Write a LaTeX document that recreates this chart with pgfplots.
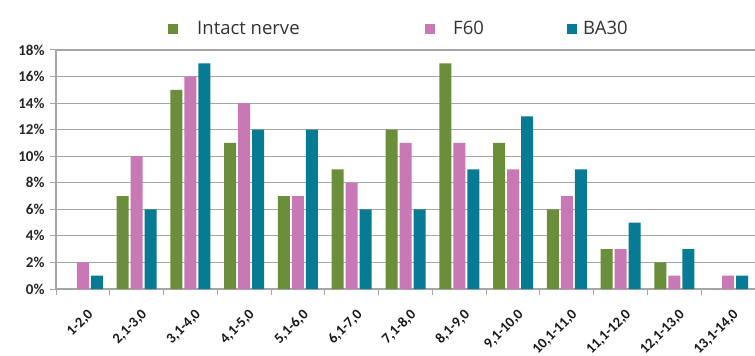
\documentclass[border=0pt]{standalone}
\usepackage{fontspec}
\setmainfont{Carlito}
\newfontfamily\legfont{Open Sans}
\usepackage{pgfplots}
\pgfplotsset{compat=1.18}
\definecolor{cgreen}{HTML}{6A8E3A}
\definecolor{cpink}{HTML}{C878B4}
\definecolor{cteal}{HTML}{077A94}
\definecolor{cgrid}{HTML}{A6A6A6}
\begin{document}
\begin{tikzpicture}[x=1pt,y=1pt]
\path[use as bounding box] (0,0) rectangle (755,356);
\begin{axis}[
  scale only axis, width=699pt, height=239pt,
  at={(56pt,67pt)}, anchor=south west,
  ybar, bar width=12pt,
  xmin=-0.5, xmax=12.5, ymin=0, ymax=18,
  xtick={0,...,12},
  xticklabels={{1-2,0},{2,1-3,0},{3,1-4,0},{4,1-5,0},{5,1-6,0},{6,1-7,0},{7,1-8,0},{8,1-9,0},{9,1-10,0},{10,1-11,0},{11,1-12,0},{12,1-13,0},{13,1-14,0}},
  major x tick style={draw=none},
  minor xtick={-0.5,0.5,...,12.5},
  minor x tick style={cgrid, line width=1pt},
  minor tick length=6pt,
  xticklabel style={inner sep=0pt, xshift=4pt, yshift=-13pt, rotate=45, anchor=north east, font=\bfseries\fontsize{14.5}{14.5}\selectfont, text=black!90},
  ytick={0,2,...,18},
  yticklabel={\pgfmathprintnumber{\tick}\%},
  /pgf/number format/assume math mode=true,
  y tick label style={font=\bfseries\fontsize{15}{15}\selectfont, text=black!85, xshift=-2pt},
  ymajorgrids, grid style={cgrid, line width=1.2pt},
  major y tick style={cgrid, line width=1pt},
  major tick length=6pt,
  tick align=outside,
  axis x line*=bottom, axis y line*=left,
  axis line style={cgrid, line width=1.2pt},
  tick pos=left,
  legend columns=3,
  legend style={at={(0.156,1.088)}, anchor=west, draw=none, fill=none,
    nodes={inner sep=0pt}, column sep=0pt,
    font=\legfont\fontsize{18.5}{18.5}\selectfont, text=black!80},
  legend image code/.code={\fill[#1] (0pt,-5pt) rectangle (10pt,5pt);},
]
\addplot[fill=cgreen, draw=none] coordinates {(0,0) (1,7) (2,15) (3,11) (4,7) (5,9) (6,12) (7,17) (8,11) (9,6) (10,3) (11,2) (12,0)};
\addlegendentry{\makebox[247pt][l]{\hspace{19pt}Intact nerve}}
\addplot[fill=cpink, draw=none] coordinates {(0,2) (1,10) (2,16) (3,14) (4,7) (5,8) (6,11) (7,11) (8,9) (9,7) (10,3) (11,1) (12,1)};
\addlegendentry{\makebox[132pt][l]{\hspace{18pt}F60}}
\addplot[fill=cteal, draw=none] coordinates {(0,1) (1,6) (2,17) (3,12) (4,12) (5,6) (6,6) (7,9) (8,13) (9,9) (10,5) (11,3) (12,1)};
\addlegendentry{\makebox[50pt][l]{\hspace{6pt}BA30}}
\end{axis}
\end{tikzpicture}
\end{document}
